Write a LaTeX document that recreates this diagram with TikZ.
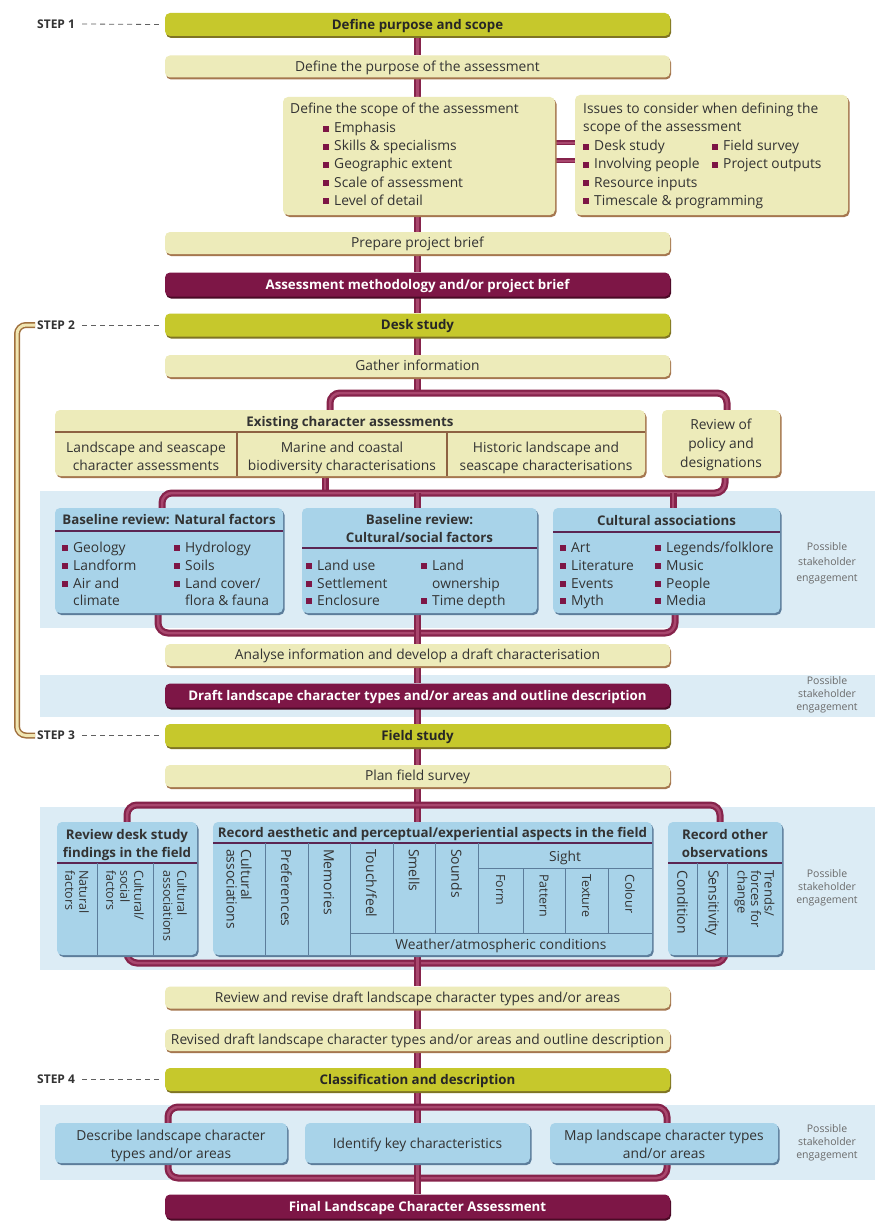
\documentclass[tikz,border=0pt]{standalone}
\usepackage{fontspec}
\setmainfont{Open Sans}
\usetikzlibrary{shadows,calc}
\definecolor{olv}{HTML}{C6C82C}
\definecolor{olvedge}{HTML}{7F7424}
\definecolor{pale}{HTML}{EDEBBA}
\definecolor{paleedge}{HTML}{A5774F}
\definecolor{mar}{HTML}{7D1646}
\definecolor{maredge}{HTML}{4A0A26}
\definecolor{bbx}{HTML}{A8D3E9}
\definecolor{bbxedge}{HTML}{5C7D9B}
\definecolor{band}{HTML}{DCECF5}
\definecolor{pipedark}{HTML}{86234B}
\definecolor{pipelight}{HTML}{A8476E}
\definecolor{txt}{HTML}{333333}
\definecolor{divl}{HTML}{5B2552}
\definecolor{brl}{HTML}{8E6242}
\definecolor{loopedge}{HTML}{A0703E}
\definecolor{loopfill}{HTML}{F0E6B2}
\definecolor{possc}{HTML}{6A6A6A}
\pgfdeclarelayer{back}
\pgfdeclarelayer{pipes}
\pgfsetlayers{back,pipes,main}
\newcommand\rf{\fontsize{13.8}{18}\selectfont}
\newcommand\bff{\fontsize{13.3}{17}\selectfont\bfseries}
\newcommand\vf{\fontsize{12.5}{14}\selectfont}
\newcommand\vfb{\fontsize{14}{14.5}\selectfont}
\newcommand\stf{\fontsize{12}{14}\selectfont\bfseries}
\newcommand\pf{\fontsize{10.5}{13}\selectfont}
\newcommand\bul{\textcolor{mar}{\rule[0.6pt]{6pt}{6pt}}\hspace{5pt}}
\newcommand\bsp{\hspace*{11pt}}
\begin{document}
\begin{tikzpicture}[x=1pt,y=-1pt,
  box/.style={rounded corners=5pt, inner sep=0pt, text height=10pt, text depth=0.5pt, text=txt},
  olivebox/.style={box, fill=olv, minimum width=505pt, minimum height=23pt, font=\bff, text=black!85, general shadow={fill=olvedge, shadow xshift=1pt, shadow yshift=-2pt}},
  palebox/.style={box, fill=pale, minimum width=505pt, minimum height=22pt, font=\rf, general shadow={fill=paleedge, shadow xshift=1pt, shadow yshift=-2pt}},
  marbox/.style={box, fill=mar, minimum width=505pt, minimum height=24pt, font=\bff, text=white, general shadow={fill=maredge, shadow xshift=1pt, shadow yshift=-2pt}},
  areabox/.style={rounded corners=5pt, inner sep=0pt, fill=pale, general shadow={fill=paleedge, shadow xshift=1.5pt, shadow yshift=-2pt}},
  bbox/.style={rounded corners=5pt, inner sep=0pt, fill=bbx, general shadow={fill=bbxedge, shadow xshift=1.5pt, shadow yshift=-2pt}},
  tl/.style={anchor=base west, inner sep=0pt, font=\rf, text=txt},
  tc/.style={anchor=base, inner sep=0pt, font=\rf, text=txt},
  hdr/.style={anchor=base, inner sep=0pt, font=\bff, text=txt},
  vt/.style={rotate=-90, anchor=west, inner sep=0pt, align=left, font=\vf, text=txt},
  vtb/.style={vt, font=\vfb},
  poss/.style={align=center, inner sep=0pt, font=\pf, text=possc},
  steplab/.style={anchor=west, inner sep=0pt, font=\stf, text=txt},
  stepdash/.style={draw=gray!75!black, dash pattern=on 5pt off 4pt, line width=0.8pt},
  divline/.style={draw=divl, line width=1.6pt},
  colline/.style={draw=bbxedge, line width=1pt},
  brline/.style={draw=brl, line width=1.2pt},
  pipe/.style={line width=7pt, draw=pipedark, rounded corners=10pt, postaction={draw=pipelight, line width=2.5pt}},
  stub/.style={line width=5pt, draw=pipedark, postaction={draw=pipelight, line width=1.5pt}},
  fback/.style={line width=6pt, draw=loopedge, rounded corners=9pt, postaction={draw=loopfill, line width=3pt}}
]
\useasboundingbox (0,0) rectangle (875,1225);

% ---------- background and bands
\begin{pgfonlayer}{back}
\fill[white] (0,0) rectangle (875,1225);
\fill[band] (40,491) rectangle (875,628);
\fill[band] (40,675) rectangle (875,717);
\fill[band] (40,807) rectangle (875,970);
\fill[band] (40,1105) rectangle (875,1180);
\end{pgfonlayer}

% ---------- STEP 1
\node[steplab] (st1) at (37,24) {STEP 1};
\node[olivebox] (s1box) at (417.5,24.5) {Define purpose and scope};
\node[palebox] (purpose) at (417.5,66.5) {Define the purpose of the assessment};
\node[areabox, minimum width=272pt, minimum height=118pt] (scope) at (419,156) {};
\node[tl] (scT) at (290,114) {Define the scope of the assessment};
\node[tl] (sc1) at (323,133) {\bul Emphasis};
\node[tl] (sc2) at (323,151) {\bul Skills \& specialisms};
\node[tl] (sc3) at (323,169) {\bul Geographic extent};
\node[tl] (sc4) at (323,187) {\bul Scale of assessment};
\node[tl] (sc5) at (323,205) {\bul Level of detail};
\node[areabox, minimum width=273pt, minimum height=120pt] (issues) at (711.5,155) {};
\node[tl] (isT1) at (583,114) {Issues to consider when defining the};
\node[tl] (isT2) at (583,132) {scope of the assessment};
\node[tl] (is1) at (583,151) {\bul Desk study};
\node[tl] (is2) at (583,169) {\bul Involving people};
\node[tl] (is3) at (583,187) {\bul Resource inputs};
\node[tl] (is4) at (583,205) {\bul Timescale \& programming};
\node[tl] (is5) at (712,151) {\bul Field survey};
\node[tl] (is6) at (712,169) {\bul Project outputs};
\node[palebox] (prep) at (417.5,243) {Prepare project brief};
\node[marbox] (method) at (417.5,284.5) {Assessment methodology and/or project brief};

% ---------- STEP 2
\node[steplab] (st2) at (37,325) {STEP 2};
\node[olivebox] (desk) at (417.5,325) {Desk study};
\node[palebox] (gather) at (417.5,366) {Gather information};
\node[areabox, minimum width=590pt, minimum height=66pt] (exist) at (350,443) {};
\node[hdr] (existH) at (350,426) {Existing character assessments};
\draw[brline] (55,432) -- (645,432);
\draw[brline] (237,432) -- (237,476);
\draw[brline] (447,432) -- (447,476);
\node[tc] (ex1a) at (146,452) {Landscape and seascape};
\node[tc] (ex1b) at (146,470) {character assessments};
\node[tc] (ex2a) at (342,452) {Marine and coastal};
\node[tc] (ex2b) at (342,470) {biodiversity characterisations};
\node[tc] (ex3a) at (546,452) {Historic landscape and};
\node[tc] (ex3b) at (546,470) {seascape characterisations};
\node[areabox, minimum width=118pt, minimum height=66pt] (policy) at (721,443) {};
\node[tc] (po1) at (721,429) {Review of};
\node[tc] (po2) at (721,448) {policy and};
\node[tc] (po3) at (721,467) {designations};

\node[bbox, minimum width=228pt, minimum height=105pt] (nat) at (169,560.5) {};
\node[hdr] (natH) at (169,524) {Baseline review: Natural factors};
\draw[divline] (55,531) -- (283,531);
\node[tl] (n1) at (62,552) {\bul Geology};
\node[tl] (n2) at (62,570) {\bul Landform};
\node[tl] (n3) at (62,588) {\bul Air and};
\node[tl] (n4) at (62,605) {\bsp climate};
\node[tl] (n5) at (174,552) {\bul Hydrology};
\node[tl] (n6) at (174,570) {\bul Soils};
\node[tl] (n7) at (174,588) {\bul Land cover/};
\node[tl] (n8) at (174,605) {\bsp flora \& fauna};

\node[bbox, minimum width=235pt, minimum height=105pt] (soc) at (419.5,560.5) {};
\node[hdr] (socH1) at (419.5,524) {Baseline review:};
\node[hdr] (socH2) at (419.5,542) {Cultural/social factors};
\draw[divline] (302,548) -- (537,548);
\node[tl] (c1) at (306,570) {\bul Land use};
\node[tl] (c2) at (306,588) {\bul Settlement};
\node[tl] (c3) at (306,605) {\bul Enclosure};
\node[tl] (c4) at (421,570) {\bul Land};
\node[tl] (c5) at (421,588) {\bsp ownership};
\node[tl] (c6) at (421,605) {\bul Time depth};

\node[bbox, minimum width=227pt, minimum height=105pt] (cult) at (666.5,560.5) {};
\node[hdr] (cultH) at (666.5,525) {Cultural associations};
\draw[divline] (553,532) -- (780,532);
\node[tl] (a1) at (560,552) {\bul Art};
\node[tl] (a2) at (560,570) {\bul Literature};
\node[tl] (a3) at (560,588) {\bul Events};
\node[tl] (a4) at (560,605) {\bul Myth};
\node[tl] (a5) at (655,552) {\bul Legends/folklore};
\node[tl] (a6) at (655,570) {\bul Music};
\node[tl] (a7) at (655,588) {\bul People};
\node[tl] (a8) at (655,605) {\bul Media};
\node[poss, font=\fontsize{10.5}{15.5}\selectfont] (poss1) at (827,563) {Possible\\stakeholder\\engagement};

\node[palebox] (analyse) at (417.5,655) {Analyse information and develop a draft characterisation};
\node[marbox] (draft) at (417.5,695.5) {Draft landscape character types and/or areas and outline description};
\node[poss] (poss2) at (827,695) {Possible\\stakeholder\\engagement};

% ---------- STEP 3
\node[steplab] (st3) at (37,735.5) {STEP 3};
\node[olivebox] (field) at (417.5,735.5) {Field study};
\node[palebox] (plan) at (417.5,776) {Plan field survey};

\node[bbox, minimum width=140pt, minimum height=133pt] (rds) at (127,888.5) {};
\node[hdr] (rdsH1) at (127,839) {Review desk study};
\node[hdr] (rdsH2) at (127,857) {findings in the field};
\draw[divline] (57,863) -- (197,863);
\draw[colline] (97,863) -- (97,955);
\draw[colline] (153,863) -- (153,955);
\node[vt] (r1) at (77,870) {Natural\\factors};
\node[vt] (r2) at (125,870) {Cultural/\\social\\factors};
\node[vt] (r3) at (175,870) {Cultural\\associations};

\node[bbox, minimum width=439pt, minimum height=133pt] (rae) at (432.5,888.5) {};
\node[hdr] (raeH) at (432.5,837) {Record aesthetic and perceptual/experiential aspects in the field};
\draw[divline] (213,843) -- (652,843);
\draw[colline] (265,843) -- (265,955);
\draw[colline] (308,843) -- (308,955);
\draw[colline] (350,843) -- (350,955);
\draw[colline] (393,843) -- (393,933);
\draw[colline] (435,843) -- (435,933);
\draw[colline] (478,843) -- (478,933);
\draw[colline] (350,933) -- (652,933);
\draw[colline] (478,868) -- (652,868);
\draw[colline] (523,868) -- (523,933);
\draw[colline] (565,868) -- (565,933);
\draw[colline] (608,868) -- (608,933);
\node[vtb] (e1) at (239,849) {Cultural\\associations};
\node[vtb] (e2) at (286.5,849) {Preferences};
\node[vtb] (e3) at (329,849) {Memories};
\node[vtb] (e4) at (371.5,849) {Touch/feel};
\node[vtb] (e5) at (414,849) {Smells};
\node[vtb] (e6) at (456.5,849) {Sounds};
\node[tc] (sight) at (565,861) {Sight};
\node[vt] (e7) at (500.5,874) {Form};
\node[vt] (e8) at (544,874) {Pattern};
\node[vt] (e9) at (586.5,874) {Texture};
\node[vt] (e10) at (630,874) {Colour};
\node[tc] (weather) at (501,949) {Weather/atmospheric conditions};

\node[bbox, minimum width=114pt, minimum height=133pt] (roo) at (725,888.5) {};
\node[hdr] (rooH1) at (725,839) {Record other};
\node[hdr] (rooH2) at (725,857) {observations};
\draw[divline] (668,863) -- (782,863);
\draw[colline] (697,863) -- (697,955);
\draw[colline] (727,863) -- (727,955);
\node[vtb] (o1) at (682.5,870) {Condition};
\node[vtb] (o2) at (712,870) {Sensitivity};
\node[vt, font=\fontsize{13}{13.5}\selectfont] (o3) at (754.5,870) {Trends/\\forces for\\change};
\node[poss] (poss3) at (827,888) {Possible\\stakeholder\\engagement};

\node[palebox] (review) at (417.5,997.5) {Review and revise draft landscape character types and/or areas};
\node[palebox] (revised) at (417.5,1040) {Revised draft landscape character types and/or areas and outline description};

% ---------- STEP 4
\node[steplab] (st4) at (37,1079.5) {STEP 4};
\node[olivebox] (classif) at (417.5,1079.5) {Classification and description};
\node[bbox, minimum width=232pt, minimum height=40pt] (describe) at (171,1143) {};
\node[tc] (de1) at (171,1140) {Describe landscape character};
\node[tc] (de2) at (171,1158) {types and/or areas};
\node[bbox, minimum width=225pt, minimum height=40pt] (identify) at (417.5,1143) {};
\node[tc] (id1) at (417.5,1148) {Identify key characteristics};
\node[bbox, minimum width=228pt, minimum height=40pt] (map) at (664,1143) {};
\node[tc] (ma1) at (664,1140) {Map landscape character types};
\node[tc] (ma2) at (664,1158) {and/or areas};
\node[poss] (poss4) at (827,1143) {Possible\\stakeholder\\engagement};
\node[marbox] (final) at (417.5,1206.5) {Final Landscape Character Assessment};

% ---------- step dashes
\foreach \s/\b in {st1/s1box, st2/desk, st3/field, st4/classif}{
  \draw[stepdash] ([xshift=7pt]\s.east) -- ([xshift=-6pt]\b.west);
}

% ---------- pipe coordinates
\coordinate (b1L) at (330,393);
\coordinate (b1R) at (727,393);
\coordinate (b2L) at (162,493);
\coordinate (b2a) at (325,493);
\coordinate (b2c) at (417.5,493);
\coordinate (b2d) at (673,493);
\coordinate (b2R) at (725,493);
\coordinate (b3L) at (158,633);
\coordinate (b3R) at (675,633);
\coordinate (b4L) at (127,805);
\coordinate (b4R) at (720,805);
\coordinate (b5L) at (127,963);
\coordinate (b5R) at (725,963);
\coordinate (b6L) at (168,1107);
\coordinate (b6R) at (667,1107);
\coordinate (b7L) at (168,1178);
\coordinate (b7R) at (667,1178);
\coordinate (lp) at (17,530);

\begin{pgfonlayer}{pipes}
\draw[pipe] (s1box.south) -- (purpose.north);
\draw[pipe] (purpose.south) -- (purpose.south |- scope.north);
\draw[pipe] (prep.north |- scope.south) -- (prep.north);
\draw[stub] ([yshift=13pt]scope.east) -- ([yshift=13pt]scope.east -| issues.west);
\draw[stub] ([yshift=-5pt]scope.east) -- ([yshift=-5pt]scope.east -| issues.west);
\draw[pipe] (prep.south) -- (method.north);
\draw[pipe] (method.south) -- (desk.north);
\draw[pipe] (desk.south) -- (gather.north);
\draw[pipe] (gather.south) -- (gather.south |- b1L);
\draw[pipe] ([yshift=-3pt]exist.north -| b1L) -- (b1L) -- (b1R) -- ([yshift=-3pt]policy.north -| b1R);
\draw[pipe] ([yshift=3pt]exist.south -| b2a) -- (b2a);
\draw[pipe] ([yshift=-3pt]nat.north -| b2L) -- (b2L) -- (b2R) -- ([yshift=3pt]policy.south -| b2R);
\draw[pipe] (b2c) -- ([yshift=-3pt]soc.north -| b2c);
\draw[pipe] (b2d) -- ([yshift=-3pt]cult.north -| b2d);
\draw[pipe] ([yshift=3pt]nat.south -| b3L) -- (b3L) -- (b3R) -- ([yshift=3pt]cult.south -| b3R);
\draw[pipe] (soc.south -| analyse.north) -- (analyse.north);
\draw[pipe] (analyse.south) -- (draft.north);
\draw[pipe] (draft.south) -- (field.north);
\draw[pipe] (field.south) -- (plan.north);
\draw[pipe] (plan.south) -- (rae.north -| plan.south);
\draw[pipe] ([yshift=-3pt]rds.north -| b4L) -- (b4L) -- (b4R) -- ([yshift=-3pt]roo.north -| b4R);
\draw[pipe] ([yshift=3pt]rds.south -| b5L) -- (b5L) -- (b5R) -- ([yshift=3pt]roo.south -| b5R);
\draw[pipe] (rae.south -| review.north) -- (review.north);
\draw[pipe] (review.south) -- (revised.north);
\draw[pipe] (revised.south) -- (classif.north);
\draw[pipe] (classif.south) -- (identify.north);
\draw[pipe] ([yshift=-3pt]describe.north -| b6L) -- (b6L) -- (b6R) -- ([yshift=-3pt]map.north -| b6R);
\draw[pipe] ([yshift=3pt]describe.south -| b7L) -- (b7L) -- (b7R) -- ([yshift=3pt]map.south -| b7R);
\draw[pipe] (identify.south) -- (final.north);
\draw[fback] ([xshift=-2pt]st3.west) -| (lp) |- ([xshift=-2pt]st2.west);
\end{pgfonlayer}
\end{tikzpicture}
\end{document}
